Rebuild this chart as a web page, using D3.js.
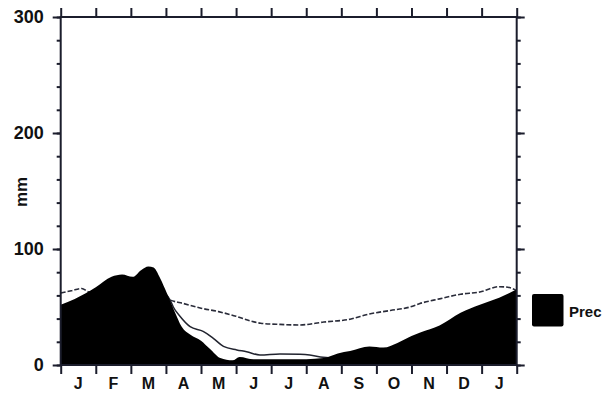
<!DOCTYPE html>
<html>
<head>
<meta charset="utf-8">
<script src="https://cdn.jsdelivr.net/npm/d3@7"></script>
<style>
  html, body { margin: 0; padding: 0; background: #fff; }
  svg { display: block; font-family: "Liberation Sans", Arial, sans-serif; }
</style>
</head>
<body>
<svg id="chart" width="602" height="395"></svg>
<script>
// ---- data (months measured from start of January; 13 = end of next January) ----
const monthLabels = ["J","F","M","A","M","J","J","A","S","O","N","D","J"];
const yTickValues = [0, 100, 200, 300];

const precMonths = [0, 0.4, 1.0, 1.45, 1.75, 2.05, 2.3, 2.5, 2.65, 2.8, 2.97, 3.25, 3.45, 3.7, 4.0, 4.25, 4.55, 4.9, 5.1, 5.5, 6.0, 6.5, 7.0, 7.5, 7.9, 8.25, 8.8, 9.2, 9.6, 10.0, 10.25, 10.8, 11.4, 11.95, 12.5, 13];
const precValues = [52, 57, 67, 76, 78, 76, 82, 85, 84, 77, 66, 46, 33, 26, 21, 14, 6, 4, 7, 5, 5, 5, 5, 6, 10, 12, 16, 15, 19, 25, 28, 34, 45, 52, 58, 65];

const dashMonths = [0, 0.3, 0.6, 0.8, 1.2, 1.8, 2.4, 2.92, 3.12, 3.5, 4.0, 4.5, 5.0, 5.4, 5.7, 6.25, 6.8, 7.5, 8.25, 8.8, 9.4, 9.96, 10.24, 10.8, 11.4, 11.95, 12.5, 12.75, 13];
const dashValues = [62, 64, 66, 63, 62, 61, 60, 59, 56, 53, 49, 46, 42, 38, 36, 35, 34.5, 37, 39.5, 44, 47, 50, 53, 57, 61, 63, 67.5, 67, 64];

const lineMonths = [2.97, 3.12, 3.21, 3.4, 3.69, 4.06, 4.35, 4.64, 5.02, 5.3, 5.68, 6.25, 6.82, 7.1, 7.48, 7.7];
const lineValues = [62, 56, 50, 42, 33, 29, 23, 16, 13, 11.5, 8.6, 9.5, 9.2, 8.6, 6.6, 6];

const legendLabel = "Prec";
const yTitle = "mm";

// ---- layout ----
const svg = d3.select("#chart");
const ink = "#1b1d2c";
const plotLeft = 60.7, plotRight = 516.7, plotTop = 17, plotBottom = 365;

const x = d3.scaleLinear().domain([0, 13]).range([plotLeft, plotRight]);
const y = d3.scaleLinear().domain([0, 300]).range([plotBottom, plotTop]);

const prec = precMonths.map((m, i) => ({m, v: precValues[i]}));
const dash = dashMonths.map((m, i) => ({m, v: dashValues[i]}));
const solid = lineMonths.map((m, i) => ({m, v: lineValues[i]}));

svg.append("clipPath").attr("id", "clip")
  .append("rect").attr("x", plotLeft).attr("y", plotTop)
  .attr("width", plotRight - plotLeft).attr("height", plotBottom - plotTop);

const g = svg.append("g").attr("clip-path", "url(#clip)");

const line = d3.line().x(d => x(d.m)).y(d => y(d.v)).curve(d3.curveMonotoneX);

g.append("path").datum(dash).attr("d", line)
  .attr("fill", "none").attr("stroke", "#2a2c3a").attr("stroke-width", 1.6)
  .attr("stroke-dasharray", "5,2");

g.append("path").datum(solid).attr("d", line)
  .attr("fill", "none").attr("stroke", "#22242f").attr("stroke-width", 1.5);

const area = d3.area().x(d => x(d.m)).y0(y(0)).y1(d => y(d.v)).curve(d3.curveMonotoneX);
g.append("path").datum(prec).attr("d", area).attr("fill", "#000");

// ---- axes ----
const monthTicks = d3.range(0, 14);
const minorY = d3.range(0, 301, 20);

const xb = svg.append("g").attr("transform", `translate(0,${plotBottom})`)
  .call(d3.axisBottom(x).tickValues(monthTicks).tickSize(9).tickFormat(""));
const xt = svg.append("g").attr("transform", `translate(0,${plotTop})`)
  .call(d3.axisTop(x).tickValues(monthTicks).tickSize(9).tickFormat(""));
const yl = svg.append("g").attr("transform", `translate(${plotLeft},0)`)
  .call(d3.axisLeft(y).tickValues(minorY).tickSize(4).tickFormat(""));
const ylM = svg.append("g").attr("transform", `translate(${plotLeft},0)`)
  .call(d3.axisLeft(y).tickValues(yTickValues).tickSize(8).tickPadding(9).tickFormat(d3.format("d")));
const yr = svg.append("g").attr("transform", `translate(${plotRight},0)`)
  .call(d3.axisRight(y).tickValues(minorY).tickSize(4).tickFormat(""));
const yrM = svg.append("g").attr("transform", `translate(${plotRight},0)`)
  .call(d3.axisRight(y).tickValues(yTickValues).tickSize(8).tickFormat(""));

[xb, xt, yl, ylM, yr, yrM].forEach(a => {
  a.select(".domain").remove();
  a.selectAll(".tick line").attr("stroke", ink).attr("stroke-width", 2);
});
svg.append("rect").attr("x", plotLeft).attr("y", plotTop)
  .attr("width", plotRight - plotLeft).attr("height", plotBottom - plotTop)
  .attr("fill", "none").attr("stroke", ink).attr("stroke-width", 2);

ylM.selectAll(".tick text")
  .attr("fill", "#111").attr("font-size", 18).attr("font-weight", "bold")
  .attr("font-family", "Liberation Sans, Arial, sans-serif");

svg.append("g").selectAll("text").data(monthLabels).join("text")
  .attr("x", (d, i) => x(i + 0.5))
  .attr("y", 389)
  .attr("text-anchor", "middle")
  .attr("font-size", 16).attr("font-weight", "bold").attr("fill", "#111")
  .text(d => d);

svg.append("text")
  .attr("transform", "translate(27,192) rotate(-90)")
  .attr("text-anchor", "middle")
  .attr("font-size", 17).attr("font-weight", "bold").attr("fill", "#111")
  .text(yTitle);

svg.append("rect").attr("x", 532).attr("y", 294).attr("width", 31.5).attr("height", 32.5)
  .attr("rx", 2).attr("fill", "#000");
svg.append("text").attr("x", 569).attr("y", 316.5)
  .attr("font-size", 15).attr("font-weight", "bold").attr("fill", "#111")
  .text(legendLabel);
</script>
</body>
</html>
